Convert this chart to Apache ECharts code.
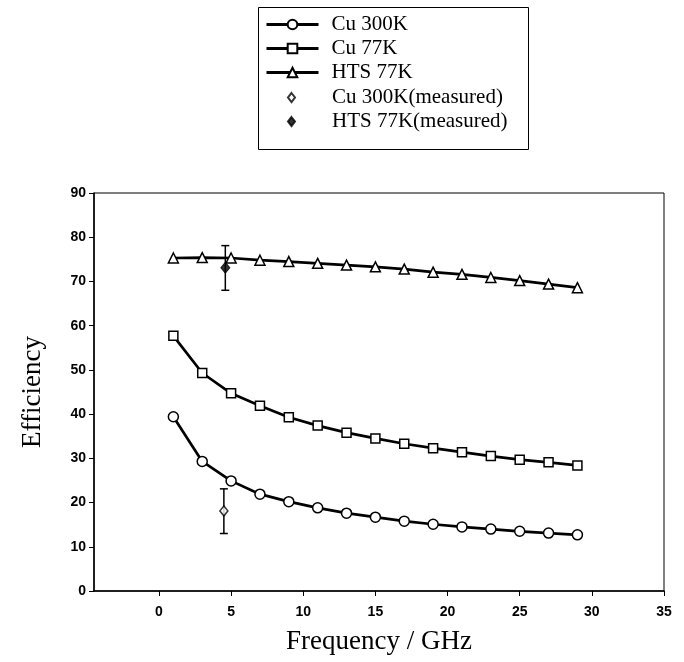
<!DOCTYPE html>
<html><head><meta charset="utf-8">
<script src="https://cdn.jsdelivr.net/npm/echarts@6/dist/echarts.min.js"></script>
<style>html,body{margin:0;padding:0;background:#fff}#c{width:684px;height:662px}</style>
</head><body><div id="c"></div>
<script>
const freq = [1,3,5,7,9,11,13,15,17,19,21,23,25,27,29];
const cu300 = [39.4,29.3,24.9,21.9,20.2,18.8,17.6,16.7,15.8,15.1,14.5,14.0,13.5,13.1,12.7];
const cu77 = [57.7,49.3,44.7,41.9,39.3,37.4,35.8,34.5,33.3,32.3,31.4,30.5,29.7,29.1,28.4];
const hts77 = [75.3,75.4,75.3,74.8,74.5,74.1,73.7,73.3,72.8,72.1,71.6,70.9,70.2,69.4,68.6];
const cu300Measured = [[4.5, 18.1]];
const cu300MeasuredErr = [[4.5, 13.0, 23.1]];
const hts77Measured = [[4.6, 73.1]];
const hts77MeasuredErr = [[4.6, 68.0, 78.1]];
const xTicks = [0,5,10,15,20,25,30,35];
const lineNames = ['Cu 300K','Cu 77K','HTS 77K'];
const measNames = ['Cu 300K(measured)','HTS 77K(measured)'];

const pair = (xs, ys) => xs.map((x, i) => [x, ys[i]]);
const chart = echarts.init(document.getElementById('c'));
const serif = 'Liberation Serif, Times New Roman, serif';
const sans = 'Liberation Sans, Arial, sans-serif';

function lineSeries(name, data, symbol, size) {
  return {
    type: 'line', name, data, symbol, symbolSize: size,
    lineStyle: { color: '#000', width: 2.7 },
    itemStyle: { color: '#fff', borderColor: '#000', borderWidth: 1.5 },
    z: 3
  };
}
function errSeries(data) {
  return {
    type: 'custom', data, encode: { x: 0, y: [1, 2] }, z: 4, silent: true,
    renderItem(params, api) {
      const x = api.value(0);
      const lo = api.coord([x, api.value(1)]);
      const hi = api.coord([x, api.value(2)]);
      const w = 4;
      const st = { stroke: '#000', lineWidth: 1.5 };
      return { type: 'group', children: [
        { type: 'line', shape: { x1: lo[0], y1: lo[1], x2: hi[0], y2: hi[1] }, style: st },
        { type: 'line', shape: { x1: lo[0] - w, y1: lo[1], x2: lo[0] + w, y2: lo[1] }, style: st },
        { type: 'line', shape: { x1: hi[0] - w, y1: hi[1], x2: hi[0] + w, y2: hi[1] }, style: st }
      ]};
    }
  };
}

chart.setOption({
  animation: false,
  backgroundColor: '#fff',
  grid: { left: 94, right: 20, top: 193, bottom: 71, show: true, borderColor: '#000', borderWidth: 1 },
  legend: [
    {
      data: lineNames, orient: 'vertical', left: 265, top: 14, padding: 0,
      itemWidth: 52, itemHeight: 12, itemGap: 3,
      lineStyle: { color: '#000', width: 3 },
      textStyle: { fontFamily: serif, fontSize: 21, lineHeight: 21, color: '#000', padding: [0, 0, 0, 8] }
    },
    {
      data: measNames, orient: 'vertical', left: 287, top: 87, padding: 0,
      itemWidth: 7, itemHeight: 9, itemGap: 3,
      textStyle: { fontFamily: serif, fontSize: 21, lineHeight: 21, color: '#000', padding: [0, 0, 0, 32] }
    }
  ],
  graphic: [{ type: 'rect', left: 256, top: 5, shape: { width: 270, height: 142 },
    style: { fill: 'none', stroke: '#000', lineWidth: 1 } }],
  xAxis: {
    type: 'value', min: -4.5, max: 35,
    name: 'Frequency / GHz', nameLocation: 'middle', nameGap: 37,
    nameTextStyle: { fontFamily: serif, fontSize: 27, color: '#000' },
    axisLine: { onZero: false, lineStyle: { color: '#000', width: 1.5 } },
    axisTick: { customValues: xTicks, length: 5, lineStyle: { color: '#000' } },
    axisLabel: { customValues: xTicks, margin: 14, fontFamily: sans, fontWeight: 'bold', fontSize: 14, color: '#000' },
    splitLine: { show: false }
  },
  yAxis: {
    type: 'value', min: 0, max: 90, interval: 10,
    name: 'Efficiency', nameLocation: 'middle', nameGap: 48,
    nameTextStyle: { fontFamily: serif, fontSize: 27, color: '#000' },
    axisLine: { show: true, onZero: false, lineStyle: { color: '#000', width: 1.5 } },
    axisTick: { show: true, length: 5, lineStyle: { color: '#000' } },
    axisLabel: { margin: 8, fontFamily: sans, fontWeight: 'bold', fontSize: 14, color: '#000' },
    splitLine: { show: false }
  },
  series: [
    lineSeries('Cu 300K', pair(freq, cu300), 'circle', 10),
    lineSeries('Cu 77K', pair(freq, cu77), 'rect', 9),
    lineSeries('HTS 77K', pair(freq, hts77), 'triangle', 10),
    errSeries(cu300MeasuredErr),
    errSeries(hts77MeasuredErr),
    {
      type: 'scatter', name: 'Cu 300K(measured)', data: cu300Measured, symbol: 'diamond', symbolSize: [8, 10],
      itemStyle: { color: '#fff', borderColor: '#000', borderWidth: 1.5 }, z: 5
    },
    {
      type: 'scatter', name: 'HTS 77K(measured)', data: hts77Measured, symbol: 'diamond', symbolSize: [9, 11],
      itemStyle: { color: '#000', borderColor: '#000', borderWidth: 1 }, z: 5
    }
  ]
});
</script></body></html>
